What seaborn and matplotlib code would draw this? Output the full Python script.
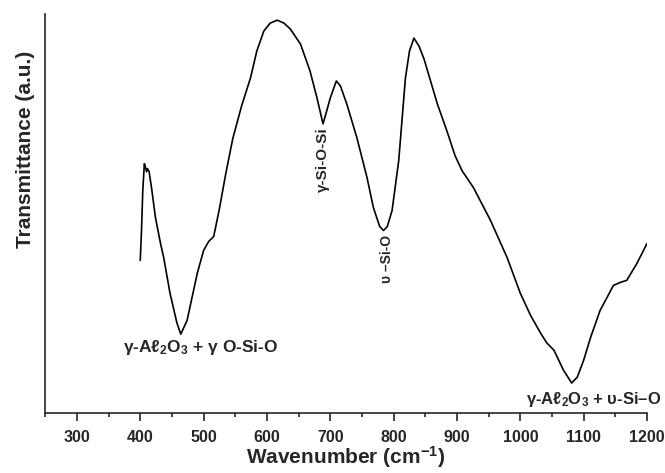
import matplotlib
matplotlib.use("Agg")
import matplotlib.pyplot as plt
import seaborn as sns
import pandas as pd
from matplotlib.ticker import MultipleLocator

# FTIR spectrum (transmittance in arbitrary units)
wavenumber = [400, 402, 404, 406.5, 408.5, 410, 411.5, 414, 418, 424, 432, 437,
              447, 458, 464, 474, 490, 500, 508, 516, 525, 535, 546, 560, 574,
              584, 595, 605, 616, 627, 637, 653, 668, 679, 688.5, 693, 700,
              709.5, 716, 726, 742, 758, 768, 778, 784, 790, 797.5, 808, 818.6,
              825, 832, 840, 848, 869, 884, 897, 908, 926, 953, 979, 1000, 1016,
              1032, 1042, 1053, 1068, 1081, 1090, 1100, 1111, 1126, 1137, 1147,
              1158, 1168, 1184, 1200]
transmittance = [38.25, 45.75, 55.75, 62.5, 61.5, 60.5, 61.25, 60.5, 56.25, 49,
                 42.5, 39, 30, 22.5, 19.75, 23.25, 35, 40.75, 43, 44.25, 51.25,
                 60, 68.75, 77, 84, 90.75, 95.75, 97.75, 98.5, 97.75, 96.25,
                 92.5, 85.75, 79, 72.5, 75, 79, 83.25, 82, 77.5, 69, 59, 51.5,
                 46.75, 45.75, 46.75, 50.75, 63.25, 84, 90.75, 94, 92, 88.75,
                 77.5, 70.75, 64.5, 60.75, 56.5, 48.25, 39, 30, 24.5, 20, 17.5,
                 15.75, 10.75, 7.5, 9, 13.25, 19, 25.75, 29, 32, 32.75, 33.25,
                 37.5, 42.5]
tick_values = list(range(300, 1201, 100))

df = pd.DataFrame({"wavenumber": wavenumber, "T": transmittance})

sns.set_style("ticks")
plt.rcParams["font.family"] = ["Liberation Sans", "DejaVu Sans"]
plt.rcParams["mathtext.fontset"] = "custom"
plt.rcParams["mathtext.rm"] = "Liberation Sans:bold"
plt.rcParams["mathtext.bf"] = "Liberation Sans:bold"
plt.rcParams["mathtext.default"] = "bf"

fig = plt.figure(figsize=(6.65, 4.73), dpi=100)
ax = fig.add_axes([0.068, 0.127, 0.905, 0.843])

sns.lineplot(data=df, x="wavenumber", y="T", color="black", linewidth=1.2,
             ax=ax, sort=False)

ax.set_xlim(250, 1200)
ax.set_ylim(0, 100)
ax.set_xticks(tick_values)
ax.set_xticklabels([str(v) for v in tick_values], fontweight="bold", fontsize=11.5)
ax.xaxis.set_minor_locator(MultipleLocator(50))
ax.set_yticks([])
ax.tick_params(axis="x", which="major", length=6, width=1.2, pad=6)
ax.tick_params(axis="x", which="minor", length=3, width=1.2)
sns.despine(ax=ax)
for sp in ["left", "bottom"]:
    ax.spines[sp].set_linewidth(1.2)

ax.set_xlabel("Wavenumber (cm$^{-1}$)", fontsize=15, fontweight="bold", labelpad=0)
ax.set_ylabel("Transmittance (a.u.)", fontsize=15, fontweight="bold")
ax.yaxis.set_label_coords(-0.017, 0.66)

ax.text(496, 16.5, "γ-Aℓ$_2$O$_3$ + γ O-Si-O", fontsize=12.5, fontweight="bold",
        ha="center", va="center")
ax.text(1116, 3.3, "γ-Aℓ$_2$O$_3$ + υ-Si–O", fontsize=12, fontweight="bold",
        ha="center", va="center", clip_on=False)
ax.text(688.5, 63.5, "γ-Si-O-Si", fontsize=11, fontweight="bold",
        ha="center", va="center", rotation=90)
ax.text(790, 38.5, "υ –Si-O", fontsize=10, fontweight="bold",
        ha="center", va="center", rotation=90)

fig.savefig("out.png", dpi=100)
